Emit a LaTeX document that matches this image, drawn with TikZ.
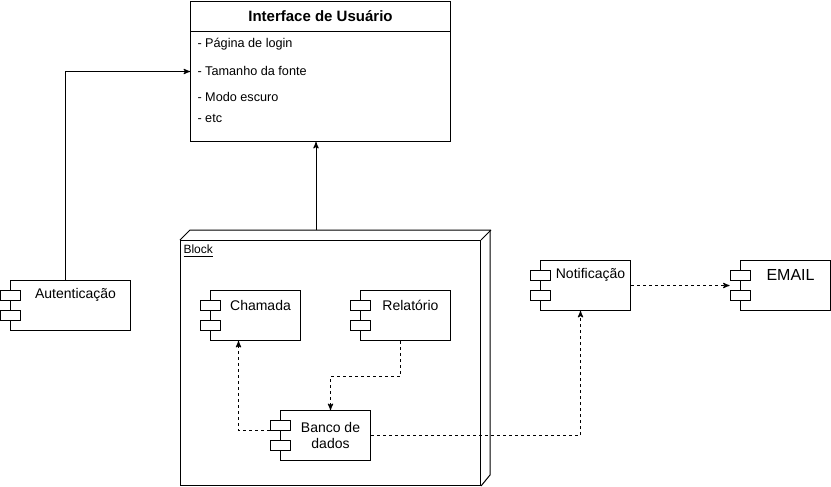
\documentclass[tikz,border=0pt]{standalone}
\usepackage{fontspec}
\setmainfont{Liberation Sans}
\usetikzlibrary{arrows,positioning,calc}
\tikzset{comp/.style={rectangle,draw,fill=white,minimum width=67.5pt,minimum height=37.5pt,inner sep=0pt,anchor=north west},
         tab/.style={rectangle,draw,fill=white,minimum width=15pt,minimum height=7.5pt,inner sep=0pt},
         comp label/.style={font=\fontsize{10.5}{12}\selectfont,inner sep=0pt,align=center},
         item/.style={font=\fontsize{9.5}{11}\selectfont,inner sep=0pt,anchor=west},
         dep/.style={->,dash pattern=on 2.25pt off 2.25pt},
}
\begin{document}
\begin{tikzpicture}[x=0.75pt,y=-0.75pt,line width=0.75pt,>=stealth']
\useasboundingbox (0,0) rectangle (831,486);
% interface box
\node[draw,fill=white,minimum width=195pt,minimum height=105pt,inner sep=0pt,anchor=north west] (ui) at (190,1) {};
\node[font=\bfseries\fontsize{11.25}{13}\selectfont,inner sep=0pt] (ui-title) at ([yshift=-11.25pt]ui.north) {Interface de Usuário};
\draw ([yshift=-22.5pt]ui.north west) -- ([yshift=-22.5pt]ui.north east);
\node[item] (ui-1) at ([xshift=5.25pt,yshift=-32.25pt]ui.north west) {- Página de login};
\node[item] (ui-2) at ([xshift=5.25pt,yshift=-52.5pt]ui.north west) {- Tamanho da fonte};
\node[item] (ui-3) at ([xshift=5.25pt,yshift=-72pt]ui.north west) {- Modo escuro};
\node[item] (ui-4) at ([xshift=5.25pt,yshift=-87.75pt]ui.north west) {- etc};
% block (3d)
\node[draw,fill=white,minimum width=225pt,minimum height=183.75pt,inner sep=0pt,anchor=north west] (block) at (180,240) {};
\draw (block.north west) -- ++(10,-10) -- ++(300,0) -- ++(0,245) -- (block.south east);
\draw (block.north east) -- ++(10,-10);
\node[font=\fontsize{9}{11}\selectfont,inner sep=0pt,anchor=west] (block-label) at (183,251) {\underline{Block}};
% components
\node[comp,minimum width=90pt] (aut) at (10,280) {};
\node[comp] (cham) at (210,290) {};
\node[comp] (rel) at (360,290) {};
\node[comp] (banco) at (280,410) {};
\node[comp] (notif) at (540,260) {};
\node[comp] (email) at (740,260) {};
\foreach \n in {aut,cham,rel,banco,notif,email}{
    \node[tab] (\n-t1) at ([yshift=-11.25pt]\n.north west) {};
    \node[tab] (\n-t2) at ([yshift=-26.25pt]\n.north west) {};
}
\node[comp label] (aut-l) at ([xshift=3.75pt,yshift=-11.25pt]aut.north) {Autenticação};
\node[comp label] (cham-l) at ([xshift=3.75pt,yshift=-11.25pt]cham.north) {Chamada};
\node[comp label] (rel-l) at ([xshift=3.75pt,yshift=-11.25pt]rel.north) {Relatório};
\node[comp label] (banco-l) at ([xshift=3.75pt]banco.center) {Banco de\\dados};
\node[comp label] (notif-l) at ([xshift=3.75pt,yshift=-11.25pt]notif.north) {Notificação};
\node[comp label,font=\fontsize{12}{14}\selectfont] (email-l) at ([xshift=3.75pt,yshift=-11.25pt]email.north) {EMAIL};
% connectors
\coordinate (block-top) at (316,230);
\draw[->] (block-top) -- (block-top |- ui.south);
\draw[->] ([xshift=-3.75pt]aut.north) |- (ui.west);
\draw[dep] (banco-t1.south west) -| ([xshift=-12.75pt]cham.south);
\draw[dep] ([xshift=-3.75pt]rel.south) -- ++(0,35) -| ([xshift=3.75pt]banco.north);
\draw[dep] (banco.east) -| ([xshift=-3.75pt]notif.south);
\draw[dep] (notif.east) -- (notif.east -| email-t1.west);
\end{tikzpicture}
\end{document}
